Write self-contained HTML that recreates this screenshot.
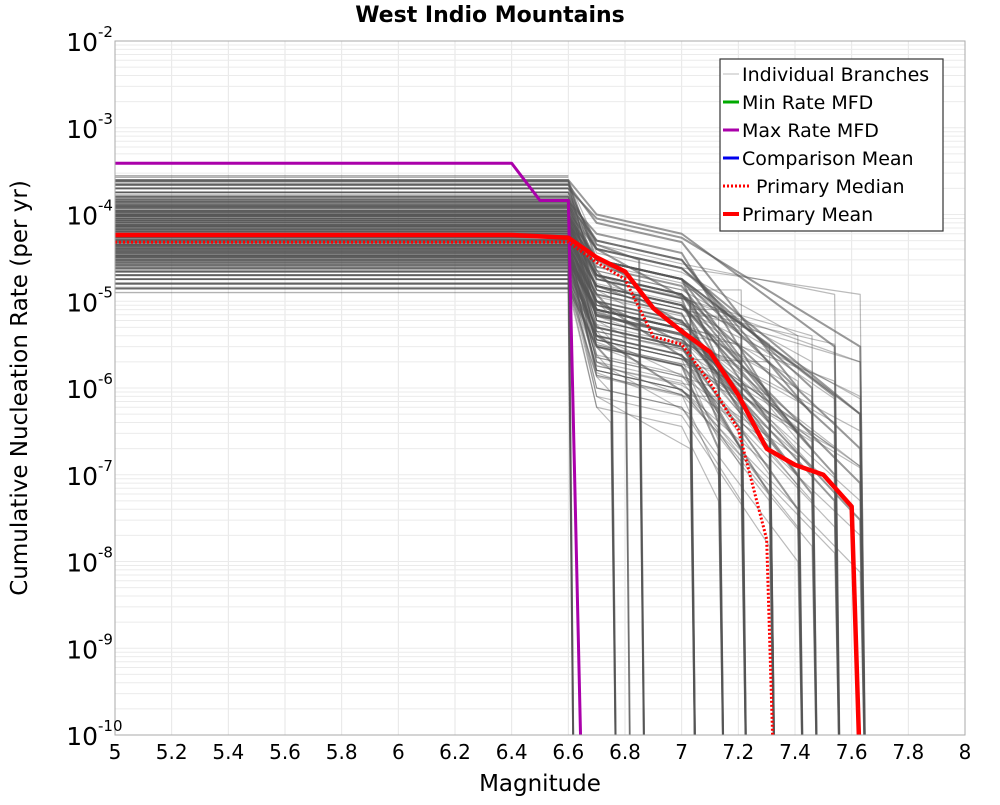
<!DOCTYPE html>
<html><head><meta charset="utf-8"><style>
body{margin:0;background:#fff;font-family:"Liberation Sans","DejaVu Sans",sans-serif}
svg text{font-family:"DejaVu Sans","Liberation Sans",sans-serif}
</style></head><body>
<svg id="chart" width="1000" height="800" xmlns="http://www.w3.org/2000/svg">
<text x="490" y="22" text-anchor="middle" font-size="22" font-weight="bold">West Indio Mountains</text>
<text x="540" y="791" text-anchor="middle" font-size="23">Magnitude</text>
<text transform="translate(27,388) rotate(-90)" text-anchor="middle" font-size="23">Cumulative Nucleation Rate (per yr)</text>
<g id="grid"></g>
<defs><clipPath id="clip"><rect x="115" y="41" width="850" height="694"/></clipPath></defs>
<g id="branches" clip-path="url(#clip)"></g>
<g id="mainlines" clip-path="url(#clip)"></g>
<rect x="115" y="41" width="850" height="694" fill="none" stroke="#aaa" stroke-width="1"/>
<g id="ticks"></g>
<g>
<rect x="720" y="59" width="223" height="172" fill="#fff" stroke="#333" stroke-width="1.2"/>
<g><line x1="723" y1="74" x2="739" y2="74" stroke="#bbb" stroke-width="1"/><text x="742" y="81" font-size="19">Individual Branches</text></g>
<g><line x1="723" y1="102" x2="739" y2="102" stroke="#00aa00" stroke-width="3"/><text x="742" y="109" font-size="19">Min Rate MFD</text></g>
<g><line x1="723" y1="130" x2="739" y2="130" stroke="#aa00aa" stroke-width="3"/><text x="742" y="137" font-size="19">Max Rate MFD</text></g>
<g><line x1="723" y1="158" x2="739" y2="158" stroke="#0000ee" stroke-width="3"/><text x="742" y="165" font-size="19">Comparison Mean</text></g>
<g><line x1="723" y1="186" x2="750" y2="186" stroke="#ff0000" stroke-width="3" stroke-dasharray="2,2"/><text x="756" y="193" font-size="19">Primary Median</text></g>
<g><line x1="723" y1="214" x2="739" y2="214" stroke="#ff0000" stroke-width="4"/><text x="742" y="221" font-size="19">Primary Mean</text></g>
</g>
</svg>
<script>
const xTicks=[5,5.2,5.4,5.6,5.8,6,6.2,6.4,6.6,6.8,7,7.2,7.4,7.6,7.8,8];
const yDecades=[-2,-3,-4,-5,-6,-7,-8,-9,-10];
const meanMags=[5,6.4,6.6,6.7,6.8,6.9,7.0,7.1,7.2,7.3,7.4,7.5,7.6,7.635];
const meanRates=[5.8e-5,5.8e-5,5.4e-5,3.2e-5,2.2e-5,8.3e-6,4.5e-6,2.6e-6,8.3e-7,2.0e-7,1.3e-7,1.0e-7,4.3e-8,1e-11];
const medianMags=[5,6.6,6.7,6.8,6.9,7.0,7.1,7.2,7.3,7.33];
const medianRates=[4.8e-5,4.8e-5,2.8e-5,1.8e-5,3.9e-6,3.2e-6,1.15e-6,3.3e-7,1.8e-8,1e-11];
const maxMags=[5,6.4,6.5,6.6,6.65];
const maxRates=[3.9e-4,3.9e-4,1.45e-4,1.45e-4,1e-11];
const branchPlateau=[2.5e-4,2.4e-4,2.2e-4,2.0e-4,1.8e-4,1.6e-4,1.5e-4,1.4e-4,1.3e-4,1.2e-4,1.1e-4,1.05e-4,1.0e-4,9.5e-5,9e-5,8.5e-5,8e-5,7.6e-5,7.2e-5,6.8e-5,6.4e-5,6e-5,5.7e-5,5.4e-5,5.1e-5,4.8e-5,4.5e-5,4.2e-5,4e-5,3.8e-5,3.6e-5,3.4e-5,3.2e-5,3e-5,2.8e-5,2.6e-5,2.4e-5,2.2e-5,2e-5,1.8e-5,1.6e-5,1.4e-5,1.25e-4,9.8e-5,7.4e-5,5.6e-5,4.4e-5,3.3e-5];
const branchMaxMag=[7.54,6.8,7.41,7.63,6.85,7.21,7.03,7.31,7.46,7.13,6.6,7.63,7.54,6.75,7.41,7.21,7.03,7.63,7.31,7.13,6.85,7.46,6.6,7.54,7.21,7.63,7.03,6.75,7.41,7.31,7.13,7.46,6.85,7.54,7.63,7.21,7.03,6.6,7.41,7.31,7.13,6.75,7.46,7.63,7.54,7.21,7.03,7.31];
const branchMidRate=[1e-4,2e-5,8e-5,9e-5,3e-5,5e-5,4e-5,6e-5,5e-5,3e-5,4e-5,4e-5,3e-5,1.5e-5,3e-5,2.5e-5,2e-5,3e-5,2e-5,1.8e-5,1e-5,2e-5,1.5e-5,1.5e-5,1.2e-5,1.5e-5,1e-5,8e-6,1e-5,8e-6,7e-6,8e-6,5e-6,7e-6,8e-6,5e-6,4e-6,5e-6,5e-6,4e-6,3e-6,2e-6,4e-5,3e-5,2e-5,1.5e-5,1e-5,8e-6];
const branchTailRate=[3e-6,0,1e-6,3e-6,0,4e-6,1e-5,8e-7,5e-7,2e-6,0,5e-7,8e-7,0,3e-7,2e-6,5e-6,2e-7,4e-7,1e-6,0,2e-7,0,1e-7,5e-7,8e-8,2e-6,0,1e-7,2e-7,4e-7,6e-8,0,5e-8,3e-8,2e-7,8e-7,0,4e-8,6e-8,2e-7,0,1e-6,5e-7,3e-7,8e-7,3e-6,5e-7];
const variantMid=[1,0.45,0.2];
const variantTail=[1,4,0.25];
const X=m=>115+(m-5)*850/3;
const Y=r=>41+(-2-Math.log10(r))*86.75;
const NS='http://www.w3.org/2000/svg';
function mk(tag,parent){const e=document.createElementNS(NS,tag);parent.appendChild(e);return e;}
const grid=document.getElementById('grid');
xTicks.forEach(t=>{const l=mk('line',grid);


l.setAttribute('x1',X(t));l.setAttribute('x2',X(t));l.setAttribute('y1',41);l.setAttribute('y2',735);l.setAttribute('stroke','#e6e6e6');});
yDecades.forEach(d=>{for(let k=1;k<10;k++){const r=k*Math.pow(10,d-1);if(r<1e-10*0.99)continue;const l=mk('line',grid);


l.setAttribute('x1',115);l.setAttribute('x2',965);l.setAttribute('y1',Y(r));l.setAttribute('y2',Y(r));l.setAttribute('stroke','#ebebeb');}});
const ticks=document.getElementById('ticks');
xTicks.forEach(t=>{const tx=mk('text',ticks);


tx.setAttribute('x',X(t));tx.setAttribute('y',759);tx.setAttribute('text-anchor','middle');tx.setAttribute('font-size','20');tx.textContent=String(t);});
yDecades.forEach(d=>{const tx=mk('text',ticks);


tx.setAttribute('x',98);tx.setAttribute('y',Y(Math.pow(10,d))+10);tx.setAttribute('text-anchor','end');tx.setAttribute('font-size','25');tx.textContent='10';
const sp=mk('text',ticks);


sp.setAttribute('x',98);sp.setAttribute('y',Y(Math.pow(10,d))-4);sp.setAttribute('font-size','15');sp.textContent=String(d);});
function poly(parent,ms,rs,stroke,w,name,extra){const p=mk('polyline',parent);


p.setAttribute('points',ms.map((m,i)=>X(m)+','+Y(rs[i])).join(' '));p.setAttribute('fill','none');p.setAttribute('stroke',stroke);p.setAttribute('stroke-width',w);p.setAttribute('stroke-linejoin','round');if(extra)for(const k in extra)p.setAttribute(k,extra[k]);return p;}
const bg=document.getElementById('branches');
branchPlateau.forEach((r0,i)=>{const mm=branchMaxMag[i];
variantMid.forEach((vm,v)=>{let ms,rs;const rm=Math.min(branchMidRate[i]*vm,r0);
if(mm===6.6){ms=[5,6.6,6.62];rs=[r0,r0,1e-11];}
else if(mm<=6.86){ms=[5,6.6,6.7,mm,mm+0.02];rs=[r0,r0,Math.min(rm*1.5,r0),rm,1e-11];}
else{const rt=Math.min(branchTailRate[i]*variantTail[v],rm*0.6);
const r70=Math.min(rm*0.6,r0);
ms=mm>7.05?[5,6.6,6.7,7.0,mm,mm+0.02]:[5,6.6,6.7,mm,mm+0.02];
rs=mm>7.05?[r0,r0,rm,r70,rt,1e-11]:[r0,r0,rm,rt,1e-11];}
poly(bg,ms,rs,'#555',v===0?2:1.2,'branch-line',{'stroke-opacity':v===0?'0.6':'0.4'});
});
poly(bg,[5,6.6],[r0*1.12,r0*1.12],'#555',1.4,'branch-line',{'stroke-opacity':'0.45'});
poly(bg,[5,6.6],[r0*0.9,r0*0.9],'#555',1.4,'branch-line',{'stroke-opacity':'0.45'});
});
const ml=document.getElementById('mainlines');
poly(ml,maxMags,maxRates,'#aa00aa',3,'max-rate-line');
poly(ml,medianMags,medianRates,'#ff0000',3,'primary-median-line',{'stroke-dasharray':'2,2'});
poly(ml,meanMags,meanRates,'#ff0000',4.5,'primary-mean-line');
</script>
</body></html>
